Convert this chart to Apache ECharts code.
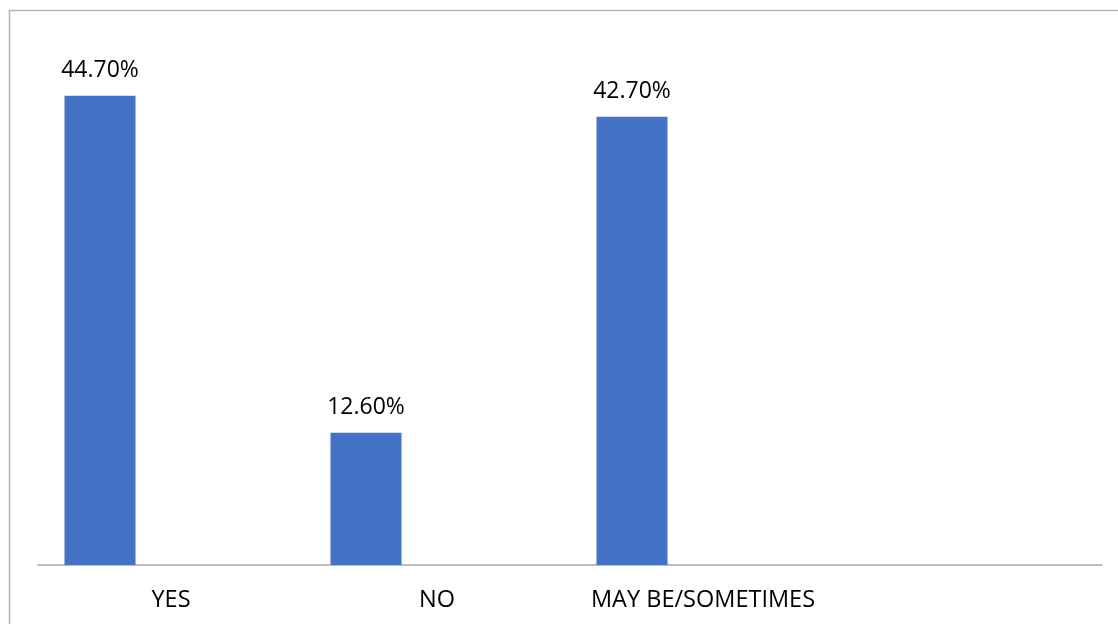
<!DOCTYPE html>
<html>
<head>
<meta charset="utf-8">
<script src="https://cdn.jsdelivr.net/npm/echarts@6/dist/echarts.min.js"></script>
<style>
html,body{margin:0;padding:0;background:#fff;}
#chart{width:1118px;height:624px;}
</style>
</head>
<body>
<div id="chart"></div>
<script>
const categories = ['YES', 'NO', 'MAY BE/SOMETIMES', ''];
const series1Values = [44.7, 12.6, 42.7, null];
const series2Values = [null, null, null, null];
const series3Values = [null, null, null, null];

const chart = echarts.init(document.getElementById('chart'), null, {renderer: 'canvas'});
const fontFamily = '"Open Sans", "Liberation Sans", sans-serif';
chart.setOption({
  animation: false,
  backgroundColor: '#ffffff',
  graphic: [{
    type: 'rect',
    shape: {x: 9.5, y: 10.5, width: 1300, height: 800},
    style: {fill: 'none', stroke: '#b4b4b4', lineWidth: 1.5},
    silent: true,
    z: 100
  }],
  grid: {left: 38, right: 16, top: 40, bottom: 59, containLabel: false},
  xAxis: {
    type: 'category',
    data: categories,
    axisLine: {show: true, lineStyle: {color: '#a6a6a6', width: 1.5}},
    axisTick: {show: false},
    axisLabel: {color: '#000000', fontSize: 23.5, fontFamily: fontFamily, margin: 23, interval: 0}
  },
  yAxis: {
    type: 'value',
    min: 0,
    max: 50,
    show: false,
    splitLine: {show: false}
  },
  series: [
    {
      name: 'Series1',
      type: 'bar',
      data: series1Values,
      barWidth: 71,
      barGap: '0%',
      itemStyle: {color: '#4472C4'},
      label: {
        show: true,
        position: 'top',
        distance: 14,
        color: '#000000',
        fontSize: 23,
        fontFamily: fontFamily,
        formatter: p => p.value == null ? '' : p.value.toFixed(2) + '%'
      }
    },
    {name: 'Series2', type: 'bar', data: series2Values, barWidth: 71, barGap: '0%', itemStyle: {color: '#ED7D31'}},
    {name: 'Series3', type: 'bar', data: series3Values, barWidth: 71, barGap: '0%', itemStyle: {color: '#A5A5A5'}}
  ]
});
</script>
</body>
</html>
